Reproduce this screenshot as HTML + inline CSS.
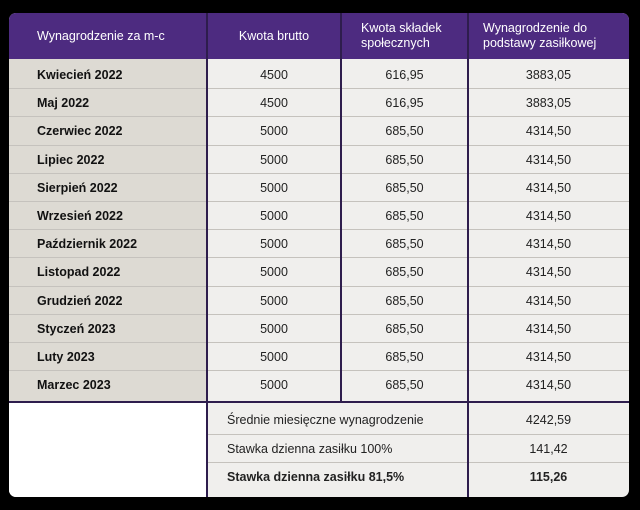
<!DOCTYPE html>
<html><head><meta charset="utf-8"><style>
body{margin:0;background:#000;width:640px;height:510px;overflow:hidden;font-family:"Liberation Sans",sans-serif;}
#t{position:absolute;left:9px;top:13px;width:620px;height:484px;border-radius:7px;overflow:hidden;background:#f0efed;}
.a{position:absolute;box-sizing:border-box;}
.h{color:#fff;font-size:12.5px;line-height:15px;display:flex;align-items:center;}
.c{display:flex;align-items:center;justify-content:center;font-size:12.5px;color:#222;}
.l{display:flex;align-items:center;font-size:12.5px;color:#111;font-weight:bold;}
</style></head><body>
<div id="t">
<div class="a" style="left:0;top:0;width:620px;height:46px;background:#4d2b80"></div>
<div class="a h" style="left:28px;top:0;height:46px">Wynagrodzenie za m-c</div>
<div class="a h" style="left:198px;top:0;width:134px;height:46px;justify-content:center">Kwota brutto</div>
<div class="a h" style="left:352px;top:0;height:46px">Kwota składek<br>społecznych</div>
<div class="a h" style="left:474px;top:0;height:46px">Wynagrodzenie do<br>podstawy zasiłkowej</div>
<div class="a" style="left:0;top:46px;width:198px;height:343px;background:#dddad3"></div>
<div class="a" style="left:0;top:390px;width:198px;height:94px;background:#fff"></div>
<div id="rows"></div>
<div class="a" style="left:197px;top:0;width:2px;height:484px;background:#2e1d4d"></div>
<div class="a" style="left:331px;top:0;width:2px;height:389px;background:#2e1d4d"></div>
<div class="a" style="left:458px;top:0;width:2px;height:484px;background:#2e1d4d"></div>
<div class="a" style="left:0;top:388px;width:620px;height:2px;background:#2e1d4d"></div>
</div>
<script>
var d=[["Kwiecień 2022","4500","616,95","3883,05"],["Maj 2022","4500","616,95","3883,05"]];
["Czerwiec 2022","Lipiec 2022","Sierpień 2022","Wrzesień 2022","Październik 2022","Listopad 2022","Grudzień 2022","Styczeń 2023","Luty 2023","Marzec 2023"].forEach(function(m){d.push([m,"5000","685,50","4314,50"]);});
var h="";
d.forEach(function(r,i){var y=48+i*28.2;
if(i>0)h+='<div class="a" style="left:0;top:'+(y-1)+'px;width:620px;height:1px;background:#c5c2bd"></div>';
h+='<div class="a l" style="left:28px;top:'+y+'px;height:28px">'+r[0]+'</div>';
h+='<div class="a c" style="left:198px;top:'+y+'px;width:134px;height:28px">'+r[1]+'</div>';
h+='<div class="a c" style="left:332px;top:'+y+'px;width:127px;height:28px">'+r[2]+'</div>';
h+='<div class="a c" style="left:459px;top:'+y+'px;width:161px;height:28px">'+r[3]+'</div>';});
var b=[["Średnie miesięczne wynagrodzenie","4242,59",0],["Stawka dzienna zasiłku 100%","141,42",0],["Stawka dzienna zasiłku 81,5%","115,26",1]];
b.forEach(function(r,i){var y=393+i*28.5;
if(i>0)h+='<div class="a" style="left:199px;top:'+(y-1)+'px;width:421px;height:1px;background:#c5c2bd"></div>';
var fw=r[2]?'bold':'normal';
h+='<div class="a c" style="left:218px;top:'+y+'px;height:28px;font-weight:'+fw+'">'+r[0]+'</div>';
h+='<div class="a c" style="left:459px;top:'+y+'px;width:161px;height:28px;font-weight:'+fw+'">'+r[1]+'</div>';});
document.getElementById("rows").innerHTML=h;
</script>
</body></html>
